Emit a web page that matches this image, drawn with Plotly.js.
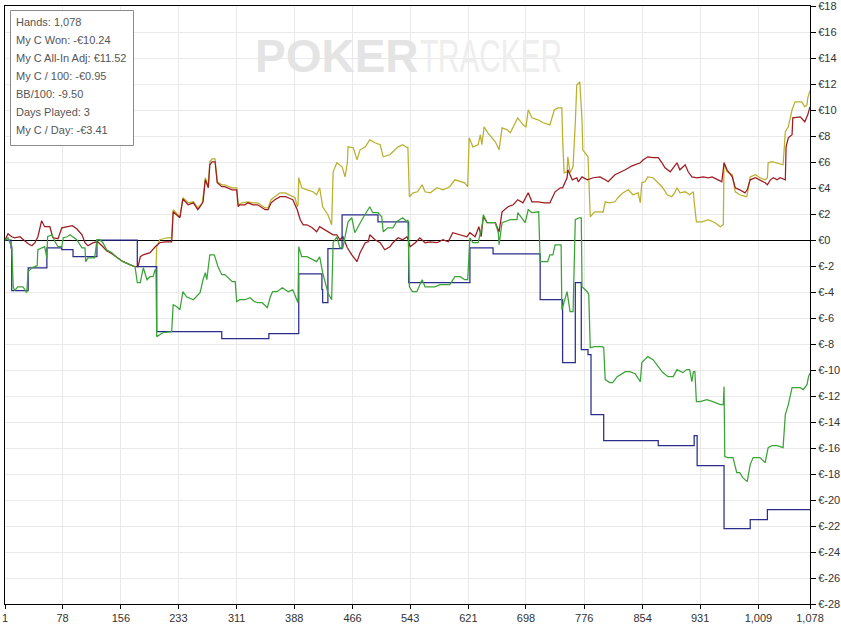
<!DOCTYPE html>
<html>
<head>
<meta charset="utf-8">
<script src="https://cdn.plot.ly/plotly-3.0.1.min.js"></script>
<style>html,body{margin:0;padding:0;background:#fff;}#chart{width:841px;height:626px;}</style>
</head>
<body>
<div id="chart"></div>
<script>
// ---- data ----
const statLines = ["Hands: 1,078", "My C Won: -€10.24", "My C All-In Adj: €11.52", "My C / 100: -€0.95", "BB/100: -9.50", "Days Played: 3", "My C / Day: -€3.41"];

const xTickVals = [1, 78, 156, 233, 311, 388, 466, 543, 621, 698, 776, 854, 931, 1009, 1078];
const xTickText = ["1", "78", "156", "233", "311", "388", "466", "543", "621", "698", "776", "854", "931", "1,009", "1,078"];
const yTickVals = [-28, -26, -24, -22, -20, -18, -16, -14, -12, -10, -8, -6, -4, -2, 0, 2, 4, 6, 8, 10, 12, 14, 16, 18];
const yTickText = ["€-28", "€-26", "€-24", "€-22", "€-20", "€-18", "€-16", "€-14", "€-12", "€-10", "€-8", "€-6", "€-4", "€-2", "€0", "€2", "€4", "€6", "€8", "€10", "€12", "€14", "€16", "€18"];

// Showdown winnings (blue, step line)
const blueHands = [1, 9, 10, 32, 57, 77, 92, 124, 178, 204, 291, 354, 394, 425, 426, 433, 452, 500, 541, 623, 654, 717, 747, 764, 772, 781, 785, 802, 875, 923, 927, 963, 998, 1021, 1078];
const blueValues = [0, -0.58, -3.88, -2.12, -0.58, -0.73, -1.27, 0, -2.04, -7.04, -7.58, -7.19, -2.58, -3.8, -4.81, -0.65, 1.96, 1.42, -3.27, -0.58, -1.04, -4.58, -9.42, -3.27, -8.42, -8.81, -13.42, -15.42, -15.81, -15.04, -17.35, -22.19, -21.5, -20.73, -20.73];

// Net won (green)
const greenHands = [1, 5, 8, 10, 12, 14, 18, 25, 30, 32, 37, 44, 45, 50, 54, 57, 58, 64, 68, 72, 77, 79, 84, 88, 92, 97, 104, 108, 109, 112, 121, 124, 128, 132, 137, 144, 151, 159, 168, 175, 178, 182, 186, 191, 195, 199, 202, 203, 204, 212, 224, 226, 231, 235, 239, 244, 253, 262, 266, 269, 271, 275, 281, 286, 291, 295, 305, 309, 311, 315, 322, 329, 335, 339, 345, 352, 356, 359, 365, 372, 376, 380, 386, 392, 393, 394, 398, 405, 413, 418, 422, 426, 433, 438, 440, 445, 449, 453, 460, 465, 469, 473, 480, 489, 493, 500, 505, 507, 513, 520, 525, 533, 539, 540, 542, 546, 552, 559, 563, 576, 583, 596, 603, 610, 616, 620, 623, 627, 634, 639, 641, 646, 657, 661, 662, 666, 677, 686, 687, 697, 701, 706, 715, 717, 727, 730, 734, 737, 745, 746, 753, 757, 761, 764, 769, 772, 773, 780, 782, 784, 790, 800, 802, 804, 810, 814, 820, 831, 837, 844, 851, 853, 861, 868, 881, 888, 895, 900, 908, 913, 917, 920, 922, 924, 926, 931, 940, 948, 958, 962, 963, 964, 968, 975, 980, 984, 988, 994, 998, 1002, 1011, 1018, 1022, 1027, 1034, 1042, 1045, 1049, 1054, 1065, 1069, 1074, 1076, 1078];
const greenValues = [0, 0.19, -0.27, -0.42, -3.58, -3.88, -3.58, -3.58, -4.04, -2.42, -2.12, -1.96, -0.73, -0.58, -0.5, -1.35, 0.27, 0.42, -0.12, -0.5, -0.5, 0.19, 0.27, 0.42, 0.27, 0.04, -0.58, -0.58, -1.65, -1.35, -1.35, 0.04, 0.04, -0.19, -0.73, -0.96, -1.35, -1.65, -1.88, -2.04, -3.27, -3.27, -2.12, -3.04, -2.81, -2.81, -2.27, -2.27, -7.42, -7.12, -7.04, -4.96, -5.12, -5.35, -3.96, -4.35, -4.58, -4.04, -3.04, -2.5, -3.04, -1.12, -1.12, -2.04, -2.65, -2.65, -3.19, -3.19, -4.73, -4.58, -4.58, -4.42, -4.73, -4.81, -4.81, -5.19, -4.35, -3.96, -3.96, -3.65, -3.81, -3.96, -3.81, -4.81, -4.81, -0.5, -1.27, -1.27, -1.5, -1.65, -1.27, -2.5, -4.04, -4.58, -0.19, 0.27, -0.58, -0.58, 1.42, 1.73, 0.58, 1.04, 1.73, 2.58, 2.12, 2.12, 1.81, 0.65, 0.96, 0.96, 1.42, 1.73, 1.42, 1.58, -3.58, -3.96, -3.96, -3.04, -3.58, -3.58, -3.42, -3.42, -2.81, -2.81, -3.04, -3.04, 0.19, -0.19, -0.19, 1.04, 1.96, 1.35, 1.35, 0.58, -0.35, 1.35, 1.58, 1.58, 2.12, 1.35, 2.35, 2.12, 2.19, -1.65, -1.65, -1.12, -1.12, -0.35, -0.35, -5.35, -3.96, -5.5, -5.5, 1.58, 1.73, 1.73, -3.58, -3.96, -4.19, -8.27, -8.19, -8.19, -8.27, -10.73, -10.96, -10.96, -10.5, -10.12, -10.12, -10.27, -10.88, -9.42, -8.96, -9.19, -10.19, -10.5, -10.5, -9.96, -10.19, -9.96, -9.96, -10.88, -10.12, -10.12, -12.42, -12.42, -12.27, -12.42, -12.65, -12.65, -11.27, -16.65, -16.73, -16.73, -17.88, -17.88, -18.27, -18.58, -17.27, -16.73, -16.73, -17.12, -15.96, -15.81, -15.81, -15.96, -13.42, -12.65, -11.35, -11.35, -11.5, -11.12, -10.5, -10.24];

// Non-showdown winnings (red)
const redHands = [1, 5, 10, 14, 21, 28, 32, 37, 41, 45, 50, 54, 61, 65, 72, 77, 84, 91, 97, 104, 108, 112, 119, 125, 132, 137, 144, 151, 159, 168, 175, 179, 182, 186, 195, 202, 208, 215, 224, 226, 235, 239, 246, 253, 259, 262, 266, 269, 273, 275, 278, 282, 285, 291, 295, 305, 311, 313, 315, 322, 326, 333, 339, 349, 353, 357, 362, 369, 376, 380, 386, 392, 396, 400, 405, 412, 418, 422, 429, 436, 440, 445, 449, 453, 459, 465, 472, 476, 483, 487, 489, 496, 503, 509, 516, 520, 527, 533, 539, 543, 550, 556, 563, 570, 579, 587, 594, 600, 610, 619, 623, 630, 635, 638, 641, 646, 657, 662, 666, 674, 681, 687, 694, 701, 706, 714, 723, 730, 737, 744, 747, 753, 754, 760, 766, 768, 773, 780, 788, 797, 804, 808, 817, 831, 840, 851, 855, 861, 868, 875, 880, 884, 891, 895, 900, 904, 911, 915, 920, 927, 935, 942, 947, 955, 960, 963, 967, 974, 978, 984, 991, 994, 998, 1005, 1011, 1018, 1021, 1025, 1029, 1034, 1038, 1045, 1046, 1049, 1054, 1055, 1065, 1071, 1075, 1078];
const redValues = [0, 0.5, 0.27, 0.19, 0.27, -0.12, -0.27, -0.42, -0.19, 0.27, 1.5, 1.04, 1.04, 0.19, 0.12, 0.96, 1.04, 1.12, 0.88, 0.42, -0.19, -0.42, -0.19, -0.12, -0.5, -0.81, -1.04, -1.35, -1.65, -1.88, -2.04, -2.04, -1.27, -1.12, -0.96, -0.5, -0.19, -0.12, -0.12, 2.19, 1.73, 3.19, 2.73, 2.88, 2.35, 2.58, 2.96, 4.65, 4.04, 5.81, 6.04, 6.04, 4.42, 4.12, 4.12, 3.88, 3.88, 2.58, 2.73, 2.73, 2.88, 2.73, 2.73, 2.35, 2.35, 2.88, 3.12, 3.35, 3.35, 3.27, 3.12, 2.35, 1.58, 1.19, 1.19, 0.96, 0.65, 1.04, 0.81, 0.58, 0.42, 0.42, 0.04, 0.27, -0.58, -1.12, -1.65, -0.96, -0.19, -0.12, 0.42, 0.04, -0.19, -0.73, -0.5, -0.19, 0.19, 0.04, 0.27, -0.5, -0.19, 0.19, -0.19, -0.12, -0.19, 0.04, -0.12, 0.58, 0.42, 0.27, 0.58, 0.27, 1.04, 0.27, 1.81, 1.35, 1.35, 0.65, 2.19, 2.58, 2.73, 3.12, 2.88, 3.65, 2.96, 2.96, 2.88, 2.88, 3.73, 4.04, 4.04, 4.81, 5.42, 4.65, 4.81, 4.5, 4.88, 4.65, 4.81, 4.88, 4.65, 4.5, 5.04, 5.42, 5.73, 5.96, 6.19, 6.42, 6.35, 6.35, 5.96, 5.58, 5.27, 5.58, 5.96, 5.42, 5.81, 5.27, 4.88, 4.81, 4.88, 4.81, 4.88, 4.65, 4.5, 5.96, 5.42, 4.88, 4.04, 3.88, 3.65, 3.88, 4.65, 4.81, 4.65, 4.42, 4.27, 4.65, 4.81, 4.65, 4.81, 4.65, 7.19, 7.88, 8.12, 9.42, 9.5, 9.12, 9.65, 10.28];

// All-in adjusted (yellow)
const yellowHands = [203, 204, 208, 218, 224, 226, 235, 239, 246, 253, 259, 265, 269, 273, 275, 278, 282, 285, 291, 295, 305, 311, 313, 318, 326, 333, 339, 349, 353, 357, 362, 369, 376, 382, 389, 392, 393, 394, 398, 405, 413, 418, 422, 426, 433, 438, 440, 445, 452, 456, 459, 460, 467, 472, 476, 483, 489, 496, 503, 507, 516, 520, 527, 533, 539, 540, 542, 547, 553, 559, 563, 570, 579, 587, 596, 603, 610, 616, 620, 622, 627, 634, 637, 639, 642, 647, 657, 662, 666, 673, 677, 683, 687, 694, 698, 701, 706, 714, 721, 730, 736, 741, 746, 747, 749, 753, 754, 757, 761, 764, 766, 770, 773, 774, 781, 784, 790, 800, 801, 804, 810, 817, 821, 828, 835, 841, 848, 851, 853, 857, 861, 868, 875, 880, 887, 893, 897, 900, 904, 911, 917, 922, 923, 926, 934, 942, 951, 958, 962, 963, 967, 974, 978, 984, 993, 994, 998, 1005, 1011, 1018, 1021, 1022, 1027, 1034, 1042, 1045, 1049, 1054, 1058, 1067, 1071, 1074, 1075, 1078];
const yellowValues = [-2.27, -0.5, 0.04, 0.19, 0.19, 2.35, 1.81, 3.27, 2.88, 2.96, 2.5, 2.88, 4.81, 4.12, 6.04, 6.27, 6.27, 4.5, 4.27, 4.27, 4.04, 4.04, 2.73, 2.88, 2.96, 2.88, 2.88, 2.5, 2.5, 3.12, 3.35, 3.65, 3.65, 3.5, 3.27, 2.58, 2.73, 4.81, 4.04, 3.88, 3.73, 3.5, 4.04, 2.58, 1.96, 1.19, 5.27, 5.96, 5.65, 4.88, 5.96, 7.19, 7.12, 6.19, 6.96, 7.19, 7.73, 7.5, 7.35, 6.42, 6.58, 6.81, 7.19, 7.35, 7.12, 7.19, 3.35, 3.65, 3.73, 4.27, 3.73, 3.65, 4.04, 3.88, 4.12, 4.65, 4.5, 4.42, 4.12, 7.88, 7.19, 7.35, 8.12, 7.35, 8.73, 8.27, 7.58, 6.96, 8.65, 8.5, 8.27, 9.04, 9.42, 8.88, 8.73, 10.04, 9.42, 9.27, 9.04, 8.88, 10.04, 10.19, 10.19, 7.88, 5.19, 5.27, 6.42, 5.19, 5.65, 9.04, 11.96, 12.19, 9.27, 6.96, 6.42, 1.81, 2.19, 2.19, 2.12, 2.96, 2.88, 2.96, 3.27, 3.65, 3.88, 3.5, 3.65, 2.88, 4.42, 4.5, 4.88, 4.81, 4.42, 4.12, 3.5, 3.35, 3.65, 4.04, 3.65, 3.73, 3.5, 3.73, 2.96, 1.42, 1.42, 1.58, 1.35, 1.04, 1.19, 5.96, 5.27, 5.04, 3.73, 3.5, 3.35, 3.5, 4.88, 5.04, 4.81, 4.65, 4.81, 5.96, 6.04, 5.96, 5.81, 8.35, 8.73, 10.04, 10.65, 10.65, 10.27, 10.42, 10.96, 11.52];

// ---- drawing ----
const M = {l: 5, r: 31, t: 6, b: 22};
const W = 841, H = 626;
const pw = W - M.l - M.r, ph = H - M.t - M.b;
const px2paperX = p => (p - M.l) / pw;
const px2paperY = p => (H - M.b - p) / ph;

const lineW = 1.25;
const traces = [
  {x: yellowHands, y: yellowValues, type: 'scatter', mode: 'lines', line: {color: '#bab02e', width: lineW}, hoverinfo: 'skip'},
  {x: redHands, y: redValues, type: 'scatter', mode: 'lines', line: {color: '#9e1b20', width: lineW}, hoverinfo: 'skip'},
  {x: blueHands, y: blueValues, type: 'scatter', mode: 'lines', line: {color: '#2a2d8c', width: lineW, shape: 'hv'}, hoverinfo: 'skip'},
  {x: greenHands, y: greenValues, type: 'scatter', mode: 'lines', line: {color: '#3aa336', width: lineW}, hoverinfo: 'skip'}
];

const annotations = [];
statLines.forEach((t, i) => {
  annotations.push({
    text: t, xref: 'paper', yref: 'paper',
    x: px2paperX(14), y: px2paperY(22 + 18 * i),
    xanchor: 'left', yanchor: 'middle', showarrow: false,
    font: {family: 'Liberation Sans, Arial, sans-serif', size: 11, color: '#555555'}
  });
});
annotations.push({
  text: '<b>POKER</b>', xref: 'paper', yref: 'paper',
  x: px2paperX(421), y: px2paperY(56), xanchor: 'right', yanchor: 'middle', showarrow: false,
  font: {family: 'Liberation Sans, Arial, sans-serif', size: 46, color: '#e4e4e4'}
});
annotations.push({
  text: 'TRACKER', xref: 'paper', yref: 'paper',
  x: px2paperX(491), y: px2paperY(56), xanchor: 'center', yanchor: 'middle', showarrow: false,
  font: {family: 'Liberation Sans, Arial, sans-serif', size: 46, color: '#eeeeee'}
});

const layout = {
  width: W, height: H,
  margin: {l: M.l, r: M.r, t: M.t, b: M.b, pad: 0},
  paper_bgcolor: '#ffffff', plot_bgcolor: '#ffffff',
  showlegend: false,
  font: {family: 'Liberation Sans, Arial, sans-serif', size: 11, color: '#333333'},
  xaxis: {
    range: [1, 1078], tickmode: 'array', tickvals: xTickVals, ticktext: xTickText,
    showgrid: true, gridcolor: '#e9e9e9', gridwidth: 1,
    showline: true, linecolor: '#000000', linewidth: 1, mirror: true,
    ticks: 'outside', ticklen: 4, tickcolor: '#000000', zeroline: false, fixedrange: true,
    tickfont: {size: 11, color: '#333333'}
  },
  yaxis: {
    range: [-28, 18.03], side: 'right', tickmode: 'array', tickvals: yTickVals, ticktext: yTickText,
    showgrid: true, gridcolor: '#e9e9e9', gridwidth: 1,
    showline: true, linecolor: '#000000', linewidth: 1, mirror: true,
    ticks: 'outside', ticklen: 5, tickcolor: '#000000',
    zeroline: true, zerolinecolor: '#000000', zerolinewidth: 1, fixedrange: true,
    tickfont: {size: 11, color: '#333333'}
  },
  shapes: [{
    type: 'rect', xref: 'paper', yref: 'paper', layer: 'above',
    x0: px2paperX(10.5), x1: px2paperX(133.5), y0: px2paperY(145.5), y1: px2paperY(10.5),
    line: {color: '#8a8a8a', width: 1}, fillcolor: 'rgba(255,255,255,1)'
  }],
  annotations: annotations
};

Plotly.newPlot('chart', traces, layout, {staticPlot: true, displayModeBar: false}).then(gd => {
  // narrow the thin half of the watermark to its width in the reference
  gd.querySelectorAll('.annotation-text').forEach(t => {
    if (t.textContent === 'TRACKER') {
      t.setAttribute('textLength', '142');
      t.setAttribute('lengthAdjust', 'spacingAndGlyphs');
    }
  });
});
</script>
</body>
</html>
